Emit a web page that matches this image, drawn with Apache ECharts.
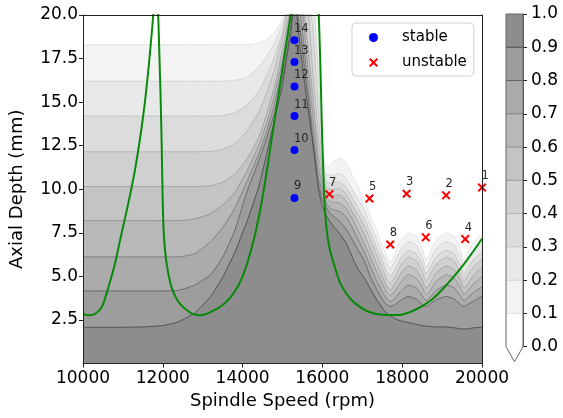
<!DOCTYPE html>
<html><head><meta charset="utf-8">
<script src="https://cdn.jsdelivr.net/npm/echarts@6/dist/echarts.min.js"></script>
<style>html,body{margin:0;padding:0;background:#fff}#c{width:563px;height:418px}</style>
</head><body><div id="c"></div>
<script>
// ---- data ----
const speeds = [10000,11000,11500,12000,12400,12800,13200,13500,13800,14100,
  14400,14600,14800,15000,15100,15200,15300,15450,15600,15750,
  15900,16000,16100,16200,16300,16450,16600,16750,16900,17050,
  17200,17350,17500,17600,17700,17800,17950,18150,18350,18500,
  18600,18700,18850,19100,19300,19450,19550,19650,19800,20000];
const level10 = [18.3,18.3,18.3,18.3,18.3,18.3,18.3,18.3,18.3,18.3, 18.4,18.6,19.0,19.8,20.5,21,21,21,21,21, 19.5,12.4,11.2,11.4,11.6,11.8,11.5,10.8,10.1,9.4, 8.5,7.7,6.8,6.2,5.8,6.2,7.0,7.5,7.3,6.6, 5.9,6.4,7.1,7.5,7.3,6.6,5.9,6.4,7.0,7.4];
const level20 = [16.2,16.2,16.2,16.2,16.2,16.2,16.2,16.2,16.25,16.4, 17.0,17.6,18.4,19.5,20.2,21,21,21,21,21, 16.5,11.8,10.8,10.8,10.85,10.9,10.6,10.0,9.4,8.8, 8.0,7.2,6.3,5.8,5.4,5.8,6.5,7.0,6.8,6.1, 5.5,5.9,6.6,7.0,6.8,6.1,5.5,5.9,6.5,6.9];
const level30 = [14.2,14.2,14.2,14.2,14.2,14.2,14.2,14.22,14.4,14.8, 15.6,16.5,17.6,19.0,20.1,21,21,21,21,19.5, 14.5,11.3,10.4,10.35,10.4,10.4,10.1,9.5,8.9,8.3, 7.5,6.7,5.9,5.3,5.0,5.3,6.0,6.5,6.3,5.7, 5.1,5.5,6.1,6.5,6.3,5.6,5.1,5.5,6.0,6.4];
const level40 = [12.15,12.15,12.15,12.15,12.15,12.15,12.17,12.3,12.6,13.3, 14.4,15.5,16.9,18.7,20.0,21,21,21,21,17.0, 13.0,10.9,10.1,10.0,10.0,10.05,9.7,9.1,8.5,7.9, 7.1,6.3,5.5,4.9,4.6,4.9,5.6,6.1,5.9,5.3, 4.7,5.1,5.7,6.1,5.9,5.2,4.7,5.1,5.6,6.0];
const level50 = [10.15,10.15,10.15,10.15,10.15,10.15,10.2,10.4,10.85,11.7, 12.95,14.3,15.9,18.0,19.2,20.5,21,21,19.0,15.5, 12.0,10.5,9.8,9.65,9.65,9.66,9.3,8.7,8.1,7.4, 6.6,5.8,5.0,4.5,4.2,4.5,5.1,5.6,5.4,4.8, 4.3,4.6,5.2,5.6,5.4,4.8,4.3,4.6,5.1,5.5];
const level60 = [8.2,8.2,8.2,8.2,8.2,8.3,8.6,9.1,9.8,11.0, 12.5,13.8,15.4,17.4,18.7,20.2,21,21,17.8,14.5, 11.3,10.2,9.5,9.3,9.25,9.2,8.9,8.3,7.6,6.9, 6.1,5.3,4.6,4.15,3.9,4.1,4.6,5.1,4.9,4.4, 3.95,4.2,4.7,5.1,4.9,4.4,3.95,4.2,4.6,5.0];
const level70 = [6.12,6.12,6.12,6.12,6.12,6.3,7.0,7.8,8.9,10.4, 12.0,13.3,14.9,16.9,18.2,19.7,21,20.0,16.8,13.5, 10.7,9.8,9.2,8.9,8.8,8.7,8.4,7.8,7.1,6.4, 5.6,4.8,4.1,3.75,3.55,3.7,4.1,4.5,4.35,3.9, 3.6,3.8,4.2,4.5,4.35,3.9,3.6,3.8,4.1,4.4];
const level80 = [4.16,4.16,4.16,4.16,4.2,4.5,5.1,6.1,7.6,9.8, 11.6,12.9,14.4,16.4,17.7,19.2,21,19.0,16.0,13.0, 10.3,9.4,8.95,8.6,8.4,8.1,7.7,7.1,6.5,5.9, 5.0,4.3,3.7,3.4,3.28,3.35,3.6,3.85,3.7,3.4, 3.26,3.4,3.65,3.85,3.7,3.4,3.26,3.4,3.6,3.85];
const level90 = [2.08,2.08,2.1,2.18,2.4,2.9,3.85,4.95,6.35,8.1, 10.1,12.0,14.0,16.0,17.5,18.8,21,18.0,15.3,12.8, 10.0,9.0,8.5,8.1,7.8,7.4,6.9,6.1,5.4,4.9, 4.3,3.7,3.2,2.9,2.75,2.6,2.45,2.35,2.25,2.18, 2.15,2.12,2.1,2.1,2.05,2.0,1.98,2.0,2.05,2.08];

const lobe1Speed = [10000,10142,10299,10473,10640,10804,10929,11053,11178,11302,11427,11551,11656,11760,11793];
const lobe1Depth = [2.84,2.77,2.84,3.26,4.40,5.75,7.08,8.34,9.66,11.10,12.87,14.99,17.29,20.0,21.4];
const lobe2Speed = [11868,11885,11917,11947,11972,11992,12012,12042,12084,12141,12216,12316,12423,12565,12714,12921,13088,13212,13386,13543,13710,13877,14001,14126,14290,14415,14539,14706,14955,15204,15241];
const lobe2Depth = [21.13,20.0,17.52,15.11,12.53,10.01,8.11,6.85,5.93,5.13,4.40,3.84,3.45,3.13,2.88,2.77,2.84,2.97,3.18,3.45,3.84,4.40,5.02,5.82,7.20,8.51,10.06,12.53,16.26,19.98,20.56];
const lobe3Speed = [15895,15909,15946,15983,16021,16058,16108,16183,16282,16449,16648,16823,17154,17570,17901,18317,18732,19146,19562,20000];
const lobe3Depth = [21.0,20.04,17.4,13.96,11.1,9.09,7.65,6.57,5.76,4.6,3.87,3.45,2.97,2.78,2.78,3.07,3.64,4.60,5.75,7.16];

const stableSpeed = [15300,15300,15300,15300,15300,15300];
const stableDepth = [9.5,12.25,14.2,15.9,17.3,18.55];
const stableIds = ['9','10','11','12','13','14'];
const unstableSpeed = [20000,19100,18110,19580,17180,18590,16175,17700];
const unstableDepth = [10.1,9.65,9.74,7.14,9.47,7.24,9.72,6.83];
const unstableIds = ['1','2','3','4','5','6','7','8'];

const contourLevels = [0.1,0.2,0.3,0.4,0.5,0.6,0.7,0.8,0.9];
const colorbarLevels = [0.0,0.1,0.2,0.3,0.4,0.5,0.6,0.7,0.8,0.9,1.0];

// ---- styles ----
const levelDepths = [level10,level20,level30,level40,level50,level60,level70,level80,level90];
const bandColors = ['#f3f3f3','#e8e8e8','#dcdcdc','#d0d0d0','#c4c4c4','#b8b8b8','#ababab','#9d9d9d','#8d8d8d'];
const lineColors = ['#e2e2e2','#d2d2d2','#c2c2c2','#b2b2b2','#a0a0a0','#8e8e8e','#7a7a7a','#646464','#4c4c4c'];
const colorbarColors = ['#ffffff'].concat(bandColors);
const FONT = 'DejaVu Sans';
const X_PATH = 'path://M0,1.6 L1.6,0 L5,3.4 L8.4,0 L10,1.6 L6.6,5 L10,8.4 L8.4,10 L5,6.6 L1.6,10 L0,8.4 L3.4,5 Z';

const chart = echarts.init(document.getElementById('c'), null, {renderer: 'canvas'});

const series = [];
levelDepths.forEach((arr, k) => {
  series.push({
    name: 'level' + contourLevels[k], type: 'line', xAxisIndex: 0, yAxisIndex: 0,
    data: speeds.map((s, i) => [s, arr[i]]),
    showSymbol: false, symbol: 'none', smooth: 0.15, silent: true,
    lineStyle: {color: lineColors[k], width: 0.9},
    areaStyle: {color: bandColors[k], opacity: 1},
    z: 1
  });
});
[[lobe1Speed, lobe1Depth], [lobe2Speed, lobe2Depth], [lobe3Speed, lobe3Depth]].forEach(([sx, sy], j) => {
  series.push({
    name: 'lobe' + j, type: 'line', xAxisIndex: 0, yAxisIndex: 0,
    data: sx.map((s, i) => [s, sy[i]]),
    showSymbol: false, symbol: 'none', smooth: 0.3, silent: true,
    lineStyle: {color: '#078a07', width: 2}, z: 3
  });
});
series.push({
  name: 'stable', type: 'scatter', xAxisIndex: 0, yAxisIndex: 0, clip: false,
  data: stableSpeed.map((s, i) => [s, stableDepth[i]]),
  symbol: 'circle', symbolSize: 8, itemStyle: {color: '#0000ff', opacity: 1}, z: 5,
  label: {show: true, position: [3.5, -1.5], align: 'left', verticalAlign: 'bottom',
    formatter: p => stableIds[p.dataIndex], fontSize: 11.5, fontFamily: FONT, color: '#262626'}
});
series.push({
  name: 'unstable', type: 'scatter', xAxisIndex: 0, yAxisIndex: 0, clip: false,
  data: unstableSpeed.map((s, i) => [s, unstableDepth[i]]),
  symbol: X_PATH, symbolSize: 9, itemStyle: {color: '#ff0000', opacity: 1}, z: 5,
  label: {show: true, position: [4, -1], align: 'left', verticalAlign: 'bottom',
    formatter: p => unstableIds[p.dataIndex], fontSize: 11.5, fontFamily: FONT, color: '#262626'}
});
series.push({
  name: 'colorbar', type: 'custom', xAxisIndex: 2, yAxisIndex: 2, silent: true,
  data: colorbarLevels.slice(0, -1).map((lo, i) => [lo, colorbarLevels[i + 1]]),
  renderItem: (params, api) => {
    const lo = api.value(0), hi = api.value(1), idx = params.dataIndex;
    const a = api.coord([0, lo]), b = api.coord([1, hi]);
    const children = [{type: 'rect', shape: {x: a[0], y: b[1], width: b[0] - a[0], height: a[1] - b[1]},
      style: {fill: colorbarColors[idx]}}];
    if (idx > 0) children.push({type: 'line', shape: {x1: a[0], y1: a[1], x2: b[0], y2: a[1]},
      style: {stroke: lineColors[idx - 1], lineWidth: 1}});
    return {type: 'group', children};
  }
});

const spine = {show: true, onZero: false, lineStyle: {color: '#222', width: 1}};
const tickLabel = {fontSize: 17, color: '#000', fontFamily: FONT};

chart.setOption({
  animation: false,
  backgroundColor: '#fff',
  grid: [
    {left: 81, right: 81, top: 15, bottom: 54.5},
    {left: 506, width: 17, top: 14, bottom: 71.3}
  ],
  legend: {
    orient: 'vertical', left: 352, top: 23,
    padding: [7, 7, 6, 17], itemGap: 10, itemWidth: 9, itemHeight: 9,
    backgroundColor: 'rgba(255,255,255,0.85)', borderColor: '#d0d0d0', borderWidth: 1, borderRadius: 4,
    textStyle: {fontSize: 15, fontFamily: FONT, color: '#000', padding: [0, 0, 0, 19]},
    data: [{name: 'stable', icon: 'circle'}, {name: 'unstable', icon: X_PATH}]
  },
  xAxis: [
    {gridIndex: 0, type: 'value', min: 10000, max: 20000, interval: 2000, position: 'bottom',
      name: 'Spindle Speed (rpm)', nameLocation: 'middle', nameGap: 29,
      nameTextStyle: {fontSize: 18, color: '#000', fontFamily: FONT},
      axisLine: spine, axisTick: {show: true, length: 4, lineStyle: {color: '#222'}},
      axisLabel: Object.assign({margin: 7, showMinLabel: true, showMaxLabel: true, hideOverlap: false,
        formatter: v => String(v)}, tickLabel),
      splitLine: {show: false}, z: 10},
    {gridIndex: 0, type: 'value', min: 10000, max: 20000, position: 'top',
      axisLine: spine, axisTick: {show: false}, axisLabel: {show: false}, splitLine: {show: false}, z: 10},
    {gridIndex: 1, type: 'value', min: 0, max: 1, show: false}
  ],
  yAxis: [
    {gridIndex: 0, type: 'value', min: 0, max: 20, interval: 2.5, position: 'left',
      name: 'Axial Depth (mm)', nameLocation: 'middle', nameGap: 57,
      nameTextStyle: {fontSize: 18, color: '#000', fontFamily: FONT},
      axisLine: spine, axisTick: {show: true, length: 4, lineStyle: {color: '#222'}},
      axisLabel: Object.assign({margin: 5, showMinLabel: false, formatter: v => v.toFixed(1)}, tickLabel),
      splitLine: {show: false}, z: 10},
    {gridIndex: 0, type: 'value', min: 0, max: 20, position: 'right',
      axisLine: spine, axisTick: {show: false}, axisLabel: {show: false}, splitLine: {show: false}, z: 10},
    {gridIndex: 1, type: 'value', min: 0, max: 1, interval: 0.1, position: 'right',
      axisLine: {show: true, onZero: false, lineStyle: {color: '#555', width: 1}},
      axisTick: {show: true, length: 4, lineStyle: {color: '#222'}},
      axisLabel: Object.assign({margin: 8, formatter: v => v.toFixed(1)}, tickLabel),
      splitLine: {show: false}}
  ],
  series
});

// colorbar outline with the "extend min" triangle, placed from the colorbar's own axes
const tl = chart.convertToPixel({gridIndex: 1}, [0, 1]);
const br = chart.convertToPixel({gridIndex: 1}, [1, 0]);
const tip = (br[1] - tl[1]) * 0.045;
chart.setOption({
  graphic: [{
    type: 'polygon', z: 100, silent: true,
    shape: {points: [[tl[0], tl[1]], [br[0], tl[1]], [br[0], br[1]], [(tl[0] + br[0]) / 2, br[1] + tip], [tl[0], br[1]]]},
    style: {fill: 'rgba(0,0,0,0)', stroke: '#666', lineWidth: 1}
  }]
});
</script></body></html>
